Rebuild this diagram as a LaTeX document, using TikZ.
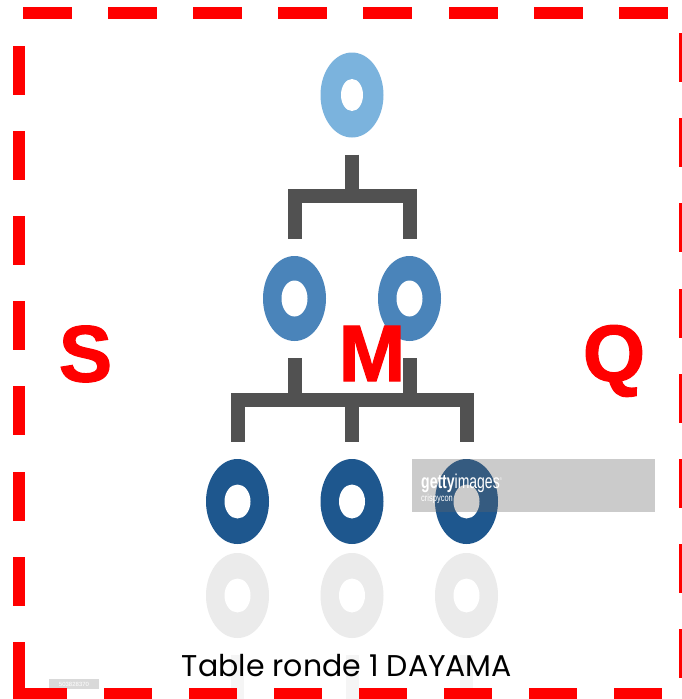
\documentclass[tikz,border=0pt]{standalone}
\usepackage{fontspec}
\usetikzlibrary{shapes.geometric}
\newfontfamily\heavy[FakeBold=1.5]{Liberation Sans Bold}
\newfontfamily\capfont{Poppins}
\newfontfamily\wmfont{Liberation Sans}
\definecolor{lvA}{HTML}{7BB3DD}
\definecolor{lvB}{HTML}{4A84BA}
\definecolor{lvC}{HTML}{1E578E}
\definecolor{conn}{HTML}{515151}
\definecolor{refl}{HTML}{EBEBEB}
\definecolor{reflconn}{HTML}{F5F5F5}
\definecolor{dashred}{HTML}{FF0000}
\definecolor{wmgray}{HTML}{646464}
\tikzset{
  ring/.style={ellipse, minimum width=63pt, minimum height=85pt, inner sep=0pt, fill=#1},
  hole/.style={ellipse, fill=white, inner sep=0pt},
  connector/.style={draw=conn, line width=14pt, miter limit=10},
  reflconnector/.style={draw=reflconn, line width=13pt},
  bigletter/.style={text=dashred, font=\heavy\fontsize{80}{80}\selectfont, inner sep=0pt, anchor=base},
}
\begin{document}
\begin{tikzpicture}[x=1pt,y=-1pt]
\useasboundingbox (0,0) rectangle (682,699);
\clip (0,0) rectangle (682,699);
\fill[white] (0,0) rectangle (682,699);

% reflections (faint)
\foreach \x/\n in {237.5/ra,352/rb,466.5/rc}{
  \node[ring=refl] (\n) at (\x,595.5) {};
  \node[hole, minimum width=26pt, minimum height=34pt] at (\n) {};
  \draw[reflconnector] ([yshift=-17pt]\n.south) -- ++(0,50);
}

% level 1
\node[ring=lvA] (t) at (352,95) {};
\node[hole, minimum width=22pt, minimum height=32pt] at (t) {};
% level 2
\node[ring=lvB] (ma) at (294.5,298.5) {};
\node[ring=lvB] (mb) at (409.5,298.5) {};
\foreach \n in {ma,mb}{\node[hole, minimum width=26pt, minimum height=36pt] at (\n) {};}
% level 3
\node[ring=lvC] (ba) at (237.5,501.5) {};
\node[ring=lvC] (bb) at (352,501.5) {};
\node[ring=lvC] (bc) at (466.5,501.5) {};
\foreach \n in {ba,bb,bc}{\node[hole, minimum width=26pt, minimum height=34pt] at (\n) {};}

% connectors
\coordinate (j1) at (352,196);
\coordinate (j2) at (352,400);
\draw[connector] ([yshift=-17pt]t.south) -- (j1)
  ([yshift=17pt]ma.north) |- (j1) -| ([yshift=17pt]mb.north);
\draw[connector] ([yshift=-17pt]ma.south) -- (ma.south |- j2)
  ([yshift=-17pt]mb.south) -- (mb.south |- j2)
  ([yshift=17pt]ba.north) |- (j2) -| ([yshift=17pt]bc.north)
  (j2) -- ([yshift=17pt]bb.north);

% getty watermark
\fill[wmgray, fill opacity=0.33] (412,459) rectangle (655,512);
\node[anchor=base west, inner sep=0pt, text=white, font=\wmfont\fontsize{20}{20}\selectfont] (wm) at (421,488) {\scalebox{0.7}[1]{\textbf{getty}images\raisebox{8pt}{\fontsize{4}{4}\selectfont\textregistered}}};
\node[anchor=base west, inner sep=0pt, text=white, font=\wmfont\fontsize{10}{10}\selectfont] (wm2) at (421,501) {\scalebox{0.75}[1]{crispycon}};
\fill[gray!30] (49,679) rectangle (99,689);
\node[text=white, font=\wmfont\fontsize{6}{6}\selectfont, inner sep=0pt] (id) at (74,684) {503828370};

% letters
\node[bigletter] (S) at (85.5,381.5) {S};
\node[bigletter] (M) at (372,381) {M};
\node[bigletter] (Q) at (614,381) {Q};

% caption
\node[anchor=base, inner sep=0pt, font=\capfont\fontsize{30}{30}\selectfont] (cap) at (347,676) {Table ronde 1 DAYAMA};

% red dashed frame
\foreach \i in {0,...,7}{
  \fill[dashred] (23+85.1*\i,7) rectangle ++(49,12);
  \fill[dashred] (19+85*\i,688) rectangle ++(48,12);
  \fill[dashred] (13,45.5+85.2*\i) rectangle ++(12,49);
  \fill[dashred] (679,33+85.2*\i) rectangle ++(12,49);
}
\fill[dashred] (13,642) rectangle (25,699);
\end{tikzpicture}
\end{document}
